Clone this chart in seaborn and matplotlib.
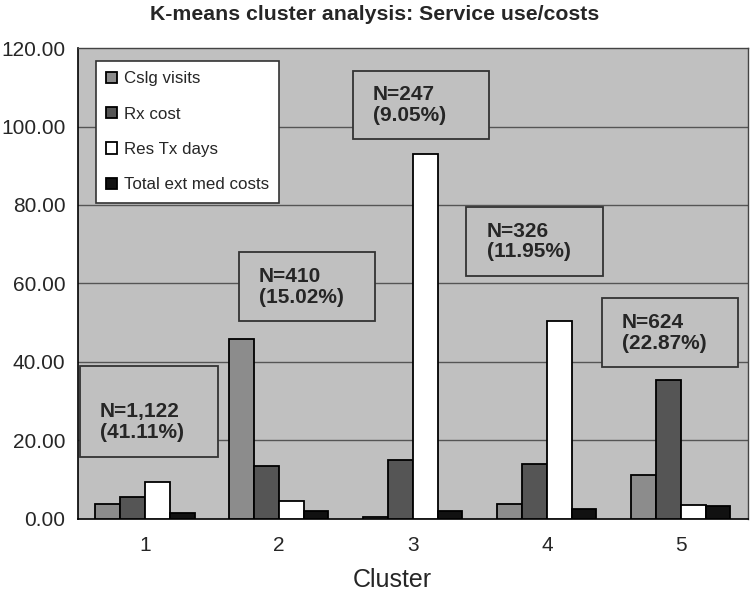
import seaborn as sns
import pandas as pd
import matplotlib.pyplot as plt

# Cluster means
clusters = ["1", "2", "3", "4", "5"]
cslg_visits = [3.7, 45.8, 0.4, 3.7, 11.2]
rx_cost = [5.5, 13.6, 15.0, 14.1, 35.4]
res_tx_days = [9.3, 4.6, 93.0, 50.4, 3.5]
total_ext_med = [1.4, 1.9, 1.9, 2.4, 3.3]

series = ["Cslg visits", "Rx cost", "Res Tx days", "Total ext med costs"]
cluster_n = ["N=1,122\n(41.11%)", "N=410\n(15.02%)", "N=247\n(9.05%)",
             "N=326\n(11.95%)", "N=624\n(22.87%)"]

# long format for seaborn
df = pd.DataFrame({
    "Cluster": clusters * 4,
    "value": cslg_visits + rx_cost + res_tx_days + total_ext_med,
    "series": [s for s in series for _ in clusters],
})

sns.set_style("white")
plt.rcParams["font.family"] = ["Liberation Sans", "DejaVu Sans"]

fig = plt.figure(figsize=(7.5, 5.93), dpi=100)
ax = fig.add_axes([0.104, 0.125, 0.893, 0.794])
ax.set_facecolor("#c0c0c0")

palette = ["#8c8c8c", "#555555", "#ffffff", "#111111"]
sns.barplot(data=df, x="Cluster", y="value", hue="series", palette=palette,
            width=0.74, gap=0, edgecolor="black", linewidth=1.3,
            saturation=1, ax=ax, zorder=3)

ax.set_ylim(0, 120)
ax.set_xlim(-0.5, 4.5)
ax.set_yticks(range(0, 121, 20))
ax.set_yticklabels([f"{v:.2f}" for v in range(0, 121, 20)], fontsize=15)
ax.set_xticks(range(5))
ax.set_xticklabels(clusters, fontsize=15)
ax.set_xticks([0.5, 1.5, 2.5, 3.5, 4.5], minor=True)
ax.tick_params(axis="x", which="major", length=0, pad=12)
ax.tick_params(axis="x", which="minor", length=6, width=1, direction="out", color="black")
ax.tick_params(axis="y", length=6, width=1, direction="out", color="black", pad=3)
for y in range(20, 101, 20):
    ax.axhline(y, color="#555555", lw=1, zorder=1)

for side in ["left", "bottom"]:
    ax.spines[side].set_color("black")
    ax.spines[side].set_linewidth(1.2)
for side in ["top", "right"]:
    ax.spines[side].set_color("#444444")
    ax.spines[side].set_linewidth(1)

ax.set_xlabel("Cluster", fontsize=18)
ax.xaxis.set_label_coords(0.469, -0.105)
ax.set_ylabel("")
fig.text(0.5, 1 - 14 / 593, "K-means cluster analysis: Service use/costs",
         fontsize=15.3, fontweight="bold", ha="center", va="center")

# annotation boxes (x0, x1, y0, y1) in data units
boxes = [(-0.485, 0.545, 15.8, 39.0), (0.70, 1.72, 50.4, 68.0),
         (1.55, 2.57, 96.8, 114.1), (2.40, 3.42, 61.9, 79.5),
         (3.41, 4.43, 38.7, 56.3)]
text_y = [24.7, 59.1, 105.5, 70.7, 47.4]
for (x0, x1, y0, y1), label, ty in zip(boxes, cluster_n, text_y):
    ax.add_patch(plt.Rectangle((x0, y0), x1 - x0, y1 - y0, facecolor="#c0c0c0",
                               edgecolor="#333333", lw=1.3, zorder=4))
    ax.text(x0 + 0.15, ty, label, fontsize=15, fontweight="bold", va="center",
            ha="left", linespacing=1.1, zorder=5)

leg = ax.legend(loc="upper left", bbox_to_anchor=(0.027, 0.972), borderaxespad=0,
                fontsize=12.2, frameon=True, fancybox=False, framealpha=1,
                edgecolor="#333333", handlelength=0.65, handleheight=0.65,
                handletextpad=0.4, labelspacing=1.2, borderpad=0.6)
leg.get_frame().set_linewidth(1.2)
leg.set_zorder(6)

fig.savefig("out.png", dpi=100)
